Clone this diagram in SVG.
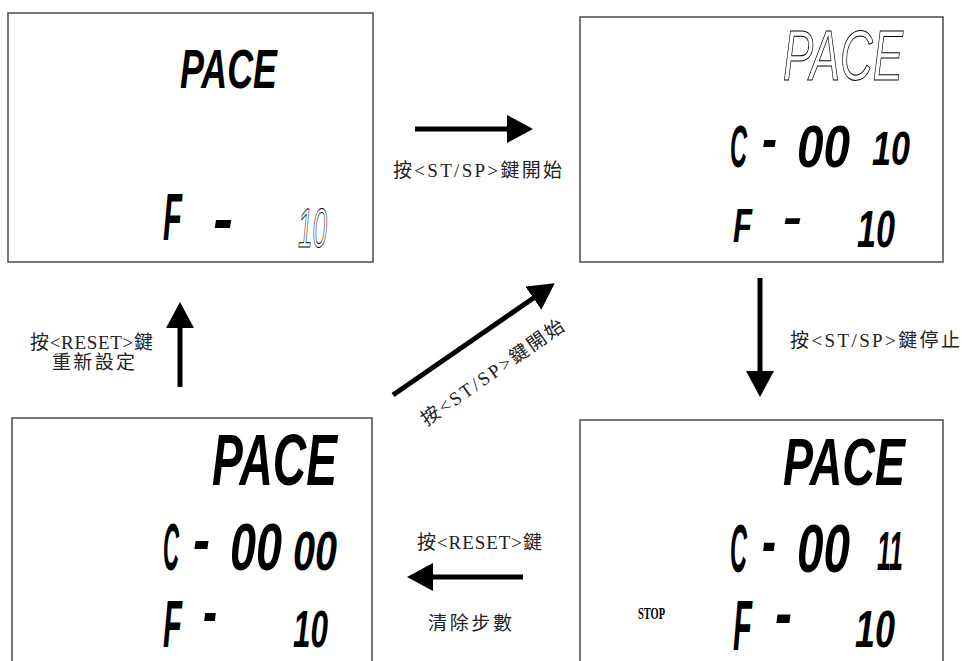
<svg xmlns="http://www.w3.org/2000/svg" width="962" height="661" viewBox="0 0 962 661">
<defs>
<style>
.box{fill:#fff;stroke:#555;stroke-width:1.6}
.lcd{font-family:"Liberation Sans",Arial,sans-serif;font-weight:bold;font-style:italic;fill:#000}
.out{font-family:"Liberation Sans",Arial,sans-serif;font-weight:normal;font-style:italic;fill:#fff;stroke:#000;stroke-width:1}
.stop{font-family:"Liberation Serif",serif;font-weight:bold;font-size:16px;fill:#000}
.lbl{font-family:"Liberation Serif","Noto Sans CJK TC",serif;font-size:19px;fill:#222}
.conn{stroke:#000;stroke-width:5;fill:none}
</style>
<marker id="ah" viewBox="0 0 26 28" refX="2" refY="14" markerWidth="26" markerHeight="28" markerUnits="userSpaceOnUse" orient="auto">
<path d="M0,0 L26,14 L0,28 z" fill="#000"/>
</marker>
</defs>
<rect width="962" height="661" fill="#fff"/>

<g id="node-idle">
<rect class="box" x="8" y="13" width="365" height="249"/>
<text class="lcd" x="180" y="88" font-size="56" textLength="97" lengthAdjust="spacingAndGlyphs">PACE</text>
<text class="lcd" x="163" y="240" font-size="67" textLength="19" lengthAdjust="spacingAndGlyphs">F</text>
<text class="lcd" x="213" y="241" font-size="67" textLength="20" lengthAdjust="spacingAndGlyphs">-</text>
<text class="out" x="298" y="247" font-size="56" textLength="29" lengthAdjust="spacingAndGlyphs">10</text>
</g>

<g id="node-running">
<rect class="box" x="580" y="17" width="363" height="245"/>
<text class="out" x="783" y="80" font-size="70" textLength="120" lengthAdjust="spacingAndGlyphs">PACE</text>
<text class="lcd" x="730" y="167" font-size="59" textLength="17" lengthAdjust="spacingAndGlyphs">C</text>
<text class="lcd" x="762" y="159" font-size="59" textLength="15" lengthAdjust="spacingAndGlyphs">-</text>
<text class="lcd" x="797" y="167" font-size="59" textLength="53" lengthAdjust="spacingAndGlyphs">00</text>
<text class="lcd" x="872" y="165" font-size="49" textLength="38" lengthAdjust="spacingAndGlyphs">10</text>
<text class="lcd" x="733" y="242" font-size="48" textLength="19" lengthAdjust="spacingAndGlyphs">F</text>
<text class="lcd" x="783" y="234" font-size="48" textLength="19" lengthAdjust="spacingAndGlyphs">-</text>
<text class="lcd" x="857" y="247" font-size="52" textLength="38" lengthAdjust="spacingAndGlyphs">10</text>
</g>

<g id="node-reset">
<rect class="box" x="12" y="418" width="360" height="262"/>
<text class="lcd" x="212" y="485" font-size="72" textLength="125" lengthAdjust="spacingAndGlyphs">PACE</text>
<text class="lcd" x="163" y="570" font-size="67" textLength="16" lengthAdjust="spacingAndGlyphs">C</text>
<text class="lcd" x="193" y="562" font-size="67" textLength="17" lengthAdjust="spacingAndGlyphs">-</text>
<text class="lcd" x="230" y="570" font-size="67" textLength="52" lengthAdjust="spacingAndGlyphs">00</text>
<text class="lcd" x="293" y="570" font-size="56" textLength="44" lengthAdjust="spacingAndGlyphs">00</text>
<text class="lcd" x="163" y="647" font-size="66" textLength="19" lengthAdjust="spacingAndGlyphs">F</text>
<text class="lcd" x="203" y="634" font-size="66" textLength="14" lengthAdjust="spacingAndGlyphs">-</text>
<text class="lcd" x="293" y="647" font-size="52" textLength="35" lengthAdjust="spacingAndGlyphs">10</text>
</g>

<g id="node-stopped">
<rect class="box" x="580" y="420" width="363" height="260"/>
<text class="lcd" x="783" y="485" font-size="67" textLength="122" lengthAdjust="spacingAndGlyphs">PACE</text>
<text class="lcd" x="730" y="572" font-size="68" textLength="17" lengthAdjust="spacingAndGlyphs">C</text>
<text class="lcd" x="762" y="565" font-size="68" textLength="14" lengthAdjust="spacingAndGlyphs">-</text>
<text class="lcd" x="797" y="572" font-size="68" textLength="53" lengthAdjust="spacingAndGlyphs">00</text>
<text class="lcd" x="877" y="570" font-size="56" textLength="26" lengthAdjust="spacingAndGlyphs">11</text>
<text class="stop" x="638" y="619" textLength="27" lengthAdjust="spacingAndGlyphs">STOP</text>
<text class="lcd" x="733" y="650" font-size="70" textLength="19" lengthAdjust="spacingAndGlyphs">F</text>
<text class="lcd" x="775" y="637" font-size="70" textLength="17" lengthAdjust="spacingAndGlyphs">-</text>
<text class="lcd" x="855" y="647" font-size="52" textLength="40" lengthAdjust="spacingAndGlyphs">10</text>
</g>

<g id="connectors">
<line class="conn" x1="415" y1="129" x2="509" y2="129" marker-end="url(#ah)"/>
<line class="conn" x1="760" y1="278" x2="760" y2="373" marker-end="url(#ah)"/>
<line class="conn" x1="523" y1="577" x2="431" y2="577" marker-end="url(#ah)"/>
<line class="conn" x1="180" y1="387" x2="180" y2="326" marker-end="url(#ah)"/>
<line class="conn" x1="393" y1="395" x2="535" y2="297" marker-end="url(#ah)"/>
<text class="lbl" x="393" y="177" textLength="169">按&lt;ST/SP&gt;鍵開始</text>
<text class="lbl" x="790" y="347" textLength="170">按&lt;ST/SP&gt;鍵停止</text>
<text class="lbl" x="417" y="549" textLength="125">按&lt;RESET&gt;鍵</text>
<text class="lbl" x="428" y="630" textLength="84">清除步數</text>
<text class="lbl" x="30" y="349" textLength="123">按&lt;RESET&gt;鍵</text>
<text class="lbl" x="52" y="369" textLength="83">重新設定</text>
<g transform="translate(492,372) rotate(-35)">
<text class="lbl" x="-85" y="7" textLength="170">按&lt;ST/SP&gt;鍵開始</text>
</g>
</g>
</svg>
